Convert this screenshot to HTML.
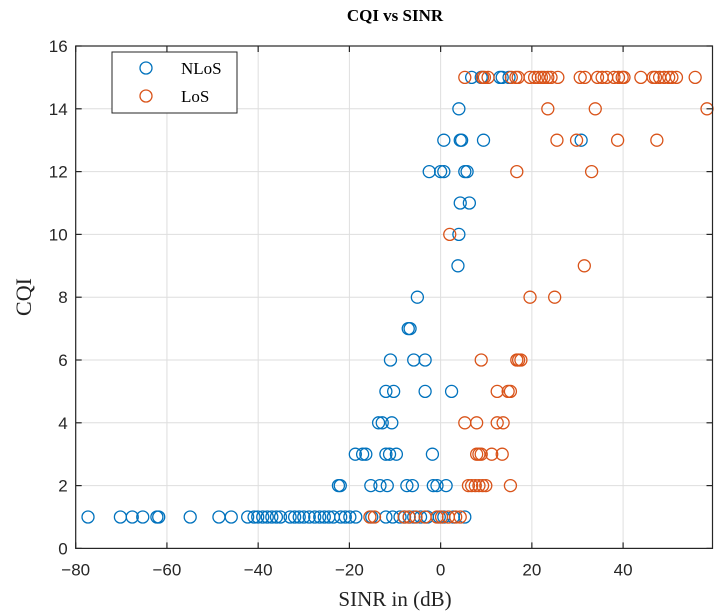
<!DOCTYPE html>
<html><head><meta charset="utf-8"><style>
html,body{margin:0;padding:0;background:#fff;}
svg{display:block;}
</style></head><body>
<svg id="chart" width="723" height="615" xmlns="http://www.w3.org/2000/svg">
<text x="395" y="21" text-anchor="middle" font-family="Liberation Serif, serif" font-weight="bold" font-size="17">CQI vs SINR</text>
<text x="395" y="606" text-anchor="middle" font-family="Liberation Serif, serif" font-size="21" fill="#222">SINR in (dB)</text>
<text transform="translate(31,297) rotate(-90)" text-anchor="middle" font-family="Liberation Serif, serif" font-size="22" fill="#222">CQI</text>
<g id="grid"></g>
<g id="ticks"></g>
<g id="marks"></g>
<rect x="75.7" y="46" width="636.8" height="502.4" fill="none" stroke="#262626" stroke-width="1.2"/>
<g>
<rect x="112" y="52" width="125" height="61" fill="#fff" stroke="#262626" stroke-width="1"/>
<circle cx="146" cy="68" r="6" fill="none" stroke="#0072BD" stroke-width="1.3"/>
<text x="181" y="74" font-family="Liberation Serif, serif" font-size="17">NLoS</text>
<circle cx="146" cy="96" r="6" fill="none" stroke="#D95319" stroke-width="1.3"/>
<text x="181" y="102" font-family="Liberation Serif, serif" font-size="17">LoS</text>
</g>
</svg>
<script>
const xTicks = [-80,-60,-40,-20,0,20,40];
const yTicks = [0,2,4,6,8,10,12,14,16];
const nlosX = [6.8,8.9,13,13.5,15, 4, 0.7,4.3,4.6,9.4,30.8, -2.5,0,0.7,5.3,5.8, 4.3,6.3, 4, 3.8, -5.1, -7.1,-6.7, -11,-5.9,-3.4, -12,-10.3,-3.4,2.4, -13.6,-12.8,-10.7, -18.7,-17.1,-16.4,-12,-11.2,-9.7,-1.8, -22.4,-22,-15.3,-13.3,-11.7,-7.4,-6.2,-1.6,-0.8,1.2,
-77.3,-70.2,-67.6,-65.3,-62.2,-61.8,-54.9,-48.6,-45.9,-42.3,-40.9,-40.1,-39.0,-38.0,-37.0,-36.0,-35.1,-33.0,-32.0,-31.0,-30.0,-28.8,-27.6,-26.5,-25.5,-24.5,-23.5,-21.9,-20.9,-19.9,-18.6,-15.1,-12.0,-10.5,-8.9,-7.9,-6.9,-5.9,-4.4,-2.9,-0.3,0.7,2.8,5.3];
const nlosY = [15,15,15,15,15, 14, 13,13,13,13,13, 12,12,12,12,12, 11,11, 10, 9, 8, 7,7, 6,6,6, 5,5,5,5, 4,4,4, 3,3,3,3,3,3,3, 2,2,2,2,2,2,2,2,2,2,
1,1,1,1,1,1,1,1,1,1,1,1,1,1,1,1,1,1,1,1,1,1,1,1,1,1,1,1,1,1,1,1,1,1,1,1,1,1,1,1,1,1,1,1];
const losX = [5.3,9.2,9.6,10.4,15.5,16.5,17.0,19.6,20.6,21.4,22.1,22.7,23.5,24.2,25.7,30.6,31.6,34.4,35.4,36.4,38.0,39.0,39.8,40.2,43.9,46.6,47.1,48.0,49.0,50.0,50.7,51.7,55.8,
23.5,33.9,58.4, 25.5,29.8,38.8,47.4, 16.7,33.1, 2.0, 31.5, 19.6,25.0, 8.9,16.7,17.1,17.6, 12.4,14.8,15.3, 5.3,7.9,12.4,13.7, 7.9,8.4,8.9,11.2,13.5, 6.1,6.8,7.6,8.4,9.2,9.9,15.3,
-15.5,-14.5,-8.0,-6.9,-5.4,-3.4,-0.8,0.2,1.7,3.3,4.3];
const losY = [15,15,15,15,15,15,15,15,15,15,15,15,15,15,15,15,15,15,15,15,15,15,15,15,15,15,15,15,15,15,15,15,15,
14,14,14, 13,13,13,13, 12,12, 10, 9, 8,8, 6,6,6,6, 5,5,5, 4,4,4,4, 3,3,3,3,3, 2,2,2,2,2,2,2,
1,1,1,1,1,1,1,1,1,1,1];

const L=75.7,R=712.5,T=46,B=548.4,XMIN=-80,XMAX=59.6,YMIN=0,YMAX=16;
const sx=v=>L+(v-XMIN)/(XMAX-XMIN)*(R-L);
const sy=v=>B-(v-YMIN)/(YMAX-YMIN)*(B-T);
const NS='http://www.w3.org/2000/svg';
function mk(tag,attrs,parent){const e=document.createElementNS(NS,tag);for(const k in attrs)e.setAttribute(k,attrs[k]);parent.appendChild(e);return e;}
const grid=document.getElementById('grid'),ticks=document.getElementById('ticks'),marks=document.getElementById('marks');
xTicks.forEach(t=>{const x=sx(t);
 const g=mk('line',{x1:x,x2:x,y1:T,y2:B,stroke:'#dedede','stroke-width':1},grid);
 
 
 mk('line',{x1:x,x2:x,y1:B,y2:B-6,stroke:'#262626','stroke-width':1.2},ticks);
 mk('line',{x1:x,x2:x,y1:T,y2:T+6,stroke:'#262626','stroke-width':1.2},ticks);
 const tx=mk('text',{x:x,y:B+27,'text-anchor':'middle','font-family':'Liberation Sans, sans-serif','font-size':17,fill:'#262626'},ticks);
 tx.textContent=t===0?'0':String(t).replace('-','\u2212');
 
 
});
yTicks.forEach(t=>{const y=sy(t);
 const g=mk('line',{x1:L,x2:R,y1:y,y2:y,stroke:'#dedede','stroke-width':1},grid);
 
 
 mk('line',{x1:L,x2:L+6,y1:y,y2:y,stroke:'#262626','stroke-width':1.2},ticks);
 mk('line',{x1:R,x2:R-6,y1:y,y2:y,stroke:'#262626','stroke-width':1.2},ticks);
 const tx=mk('text',{x:L-8,y:y+6,'text-anchor':'end','font-family':'Liberation Sans, sans-serif','font-size':17,fill:'#262626'},ticks);
 tx.textContent=String(t);
 
 
});
function series(xs,ys,color,name){xs.forEach((v,i)=>{
 const c=mk('circle',{cx:sx(v),cy:sy(ys[i]),r:6,fill:'none',stroke:color,'stroke-width':1.3},marks);
 
 
});}
series(nlosX,nlosY,'#0072BD','nlos-point');
series(losX,losY,'#D95319','los-point');
</script>
</body></html>
